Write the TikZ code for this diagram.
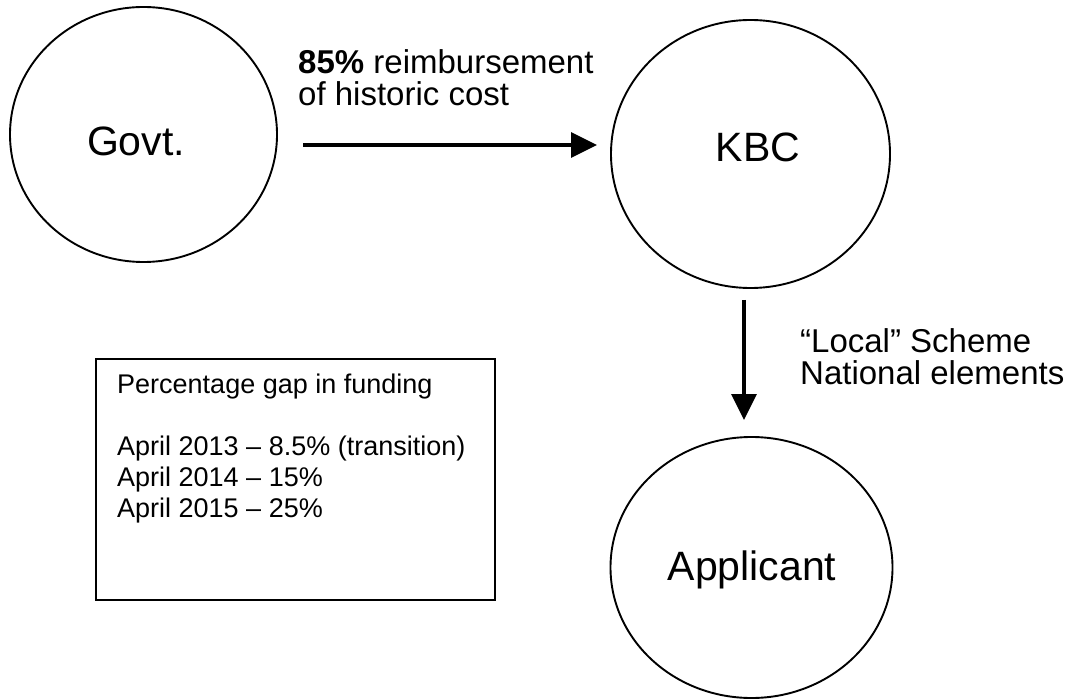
\documentclass[tikz,border=0pt]{standalone}
\usepackage{fontspec}
\setmainfont{Liberation Sans}
\usetikzlibrary{shapes.geometric,arrows.meta}
\begin{document}
\begin{tikzpicture}[x=1pt,y=-1pt,
  circ/.style={draw, ellipse, line width=1.9pt, inner sep=0pt},
  ctext/.style={inner sep=0pt, font=\fontsize{41}{48}\selectfont},
  arr/.style={line width=3.2pt, -{Triangle[length=26pt,width=25pt]}},
  lbl/.style={align=left, inner sep=0pt, font=\fontsize{33}{32}\selectfont},
  boxtext/.style={align=left, inner sep=0pt, font=\fontsize{27}{31}\selectfont}]
\useasboundingbox (0,0) rectangle (1075,700);
\node[circ, minimum width=267pt, minimum height=255pt] (govt) at (143.5,134.5) {};
\node[circ, minimum width=279pt, minimum height=268pt] (kbc) at (750.5,154) {};
\node[circ, minimum width=282pt, minimum height=261pt] (app) at (751.5,567.5) {};
\node[ctext] (govtt) at (136,141) {Govt.};
\node[ctext] (kbct) at (758,147) {KBC};
\node[ctext] (appt) at (752,570) {Applicant};
\coordinate (h1) at (303,145);
\coordinate (h2) at (597,145);
\draw[arr] (h1) -- (h2);
\coordinate (v1) at (744,300);
\coordinate (v2) at (744,420);
\draw[arr] (v1) -- (v2);
\node[lbl, anchor=north west] (lab1) at (298,49) {\textbf{85\%} reimbursement\\of historic cost};
\node[lbl, anchor=north west] (lab2) at (800,328) {“Local” Scheme\\National elements};
\node[draw, line width=1.5pt, minimum width=399pt, minimum height=241pt, inner sep=0pt, anchor=north west] (box) at (95,358) {};
\node[boxtext, anchor=north west] (gap) at (117,374) {Percentage gap in funding\\[31pt]April 2013 – 8.5\% (transition)\\April 2014 – 15\%\\April 2015 – 25\%};
\end{tikzpicture}
\end{document}
